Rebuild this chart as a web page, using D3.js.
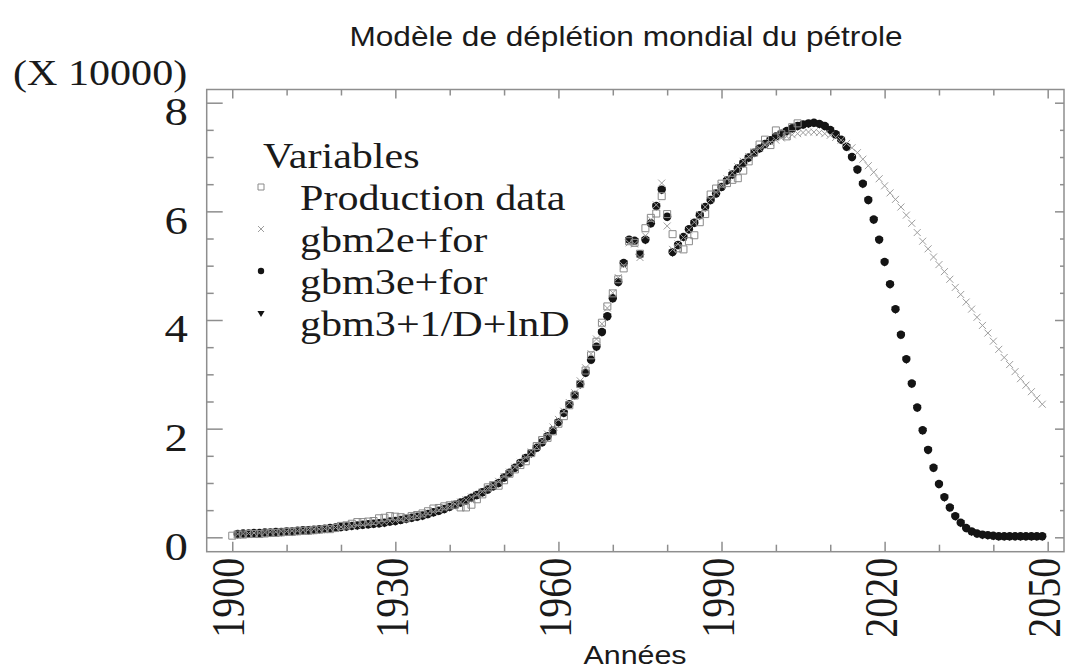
<!DOCTYPE html>
<html><head><meta charset="utf-8">
<script src="https://cdn.jsdelivr.net/npm/d3@7"></script>
<style>body{margin:0;background:#fff}svg{display:block}</style>
</head><body>
<svg id="chart" width="1065" height="671"></svg>
<script>
// ---------- data ----------
const titleText = "Modèle de déplétion mondial du pétrole";
const xLabel = "Années";
const yUnit = "(X 10000)";
const legendTitle = "Variables";
const seriesNames = ["Production data", "gbm2e+for", "gbm3e+for", "gbm3+1/D+lnD"];
const xMajorTicks = [1900, 1930, 1960, 1990, 2020, 2050];
const xMinorTicks = [1910,1920,1940,1950,1970,1980,2000,2010,2030,2040];
const yMajorTicks = [0, 2, 4, 6, 8];
const yMinorTicks = [0.5,1,1.5,2.5,3,3.5,4.5,5,5.5,6.5,7,7.5];

const prodStart = 1900;
const productionData = [
 0.03,0.05,0.05,0.06,0.06,0.06,0.07,0.08,0.08,0.09,
 0.10,0.10,0.11,0.12,0.12,0.13,0.14,0.15,0.15,0.17,
 0.21,0.22,0.25,0.28,0.28,0.29,0.30,0.35,0.36,0.39,
 0.38,0.37,0.35,0.39,0.41,0.44,0.48,0.53,0.54,0.57,
 0.59,0.60,0.55,0.55,0.60,0.70,0.79,0.92,0.96,0.95,
 1.05,1.17,1.25,1.33,1.40,1.55,1.68,1.79,1.83,1.95,
 2.09,2.23,2.43,2.61,2.82,3.07,3.35,3.60,3.95,4.25,
 4.49,4.75,4.95,5.45,5.42,5.22,5.69,5.88,5.96,6.28,
 5.95,5.58,5.32,5.30,5.45,5.56,5.80,5.95,6.31,6.42,
 6.51,6.52,6.58,6.61,6.75,6.92,7.08,7.23,7.32,7.22,
 7.49,7.42,7.38,7.55,7.62
];

const modelStart = 1901;
const gbm2eFor = [
 0.06,0.07,0.07,0.08,0.08,0.09,0.10,0.10,0.11,0.11,
 0.12,0.12,0.13,0.14,0.15,0.15,0.16,0.17,0.18,0.19,
 0.20,0.21,0.22,0.23,0.25,0.26,0.27,0.28,0.30,0.31,
 0.33,0.35,0.37,0.39,0.41,0.44,0.47,0.50,0.53,0.57,
 0.61,0.65,0.69,0.74,0.79,0.84,0.90,0.96,1.03,1.12,
 1.20,1.29,1.38,1.47,1.57,1.67,1.78,1.90,2.03,2.17,
 2.32,2.48,2.66,2.88,3.12,3.38,3.65,3.93,4.22,4.50,
 4.78,5.00,5.42,5.40,5.15,5.55,5.85,6.12,6.52,5.73,
 5.30,5.40,5.52,5.66,5.80,5.94,6.08,6.22,6.35,6.48,
 6.60,6.71,6.82,6.92,7.01,7.09,7.16,7.22,7.27,7.31,
 7.35,7.38,7.41,7.43,7.45,7.46,7.46,7.45,7.43,7.40,
 7.36,7.31,7.25,7.17,7.08,6.96,6.84,6.72,6.60,6.47,
 6.34,6.22,6.08,5.93,5.78,5.61,5.45,5.31,5.16,5.02,
 4.89,4.75,4.60,4.47,4.33,4.20,4.05,3.90,3.76,3.61,
 3.46,3.31,3.18,3.05,2.92,2.80,2.68,2.56,2.45
];
const gbm3eFor = [
 0.06,0.07,0.07,0.08,0.08,0.09,0.09,0.10,0.10,0.11,
 0.11,0.12,0.13,0.13,0.14,0.15,0.16,0.17,0.18,0.19,
 0.20,0.21,0.22,0.23,0.24,0.25,0.26,0.27,0.29,0.30,
 0.32,0.34,0.36,0.38,0.40,0.43,0.46,0.49,0.52,0.56,
 0.60,0.64,0.68,0.73,0.78,0.83,0.88,0.94,1.00,1.10,
 1.19,1.28,1.37,1.46,1.55,1.65,1.75,1.86,1.97,2.12,
 2.29,2.45,2.62,2.82,3.03,3.27,3.51,3.78,4.07,4.40,
 4.70,5.05,5.48,5.46,5.21,5.48,5.78,6.10,6.40,5.90,
 5.25,5.38,5.53,5.67,5.79,5.93,6.08,6.21,6.33,6.45,
 6.57,6.68,6.79,6.89,6.99,7.08,7.16,7.24,7.31,7.38,
 7.43,7.48,7.53,7.57,7.60,7.62,7.63,7.61,7.57,7.50,
 7.42,7.32,7.19,7.00,6.77,6.51,6.21,5.85,5.48,5.07,
 4.66,4.20,3.73,3.28,2.83,2.39,1.97,1.61,1.28,0.98,
 0.74,0.55,0.39,0.27,0.17,0.11,0.07,0.05,0.04,0.03,
 0.02,0.02,0.02,0.02,0.02,0.02,0.02,0.02,0.02
];
// hidden beneath the gbm3e+for dots in the original
const gbm3InvDlnD = gbm3eFor.slice();

// ---------- layout ----------
const SX = 1.17;            // horizontal stretch of the original's lettering
const serif = "'Liberation Serif','Times New Roman',serif";
const sans = "'Liberation Sans',Arial,sans-serif";
const frame = {left: 206.7, right: 1064, top: 89.5, bottom: 551.7};
const axisColor = "#8e8e8e";

const svg = d3.select("#chart");
const x = d3.scaleLinear().domain([1895.3, 2053.0]).range([frame.left, frame.right]);
const y = d3.scaleLinear().domain([-0.265, 8.243]).range([frame.bottom, frame.top]);

function stext(px, py, str, size, family, anchor) {
  return svg.append("g").attr("transform", `translate(${px},${py}) scale(${SX},1)`)
    .append("text").attr("font-family", family).attr("font-size", size)
    .attr("text-anchor", anchor || "start").attr("fill", "#1a1a1a").text(str);
}

// title & labels
stext(626, 46, titleText, 27, sans, "middle");
stext(635, 664, xLabel, 26, sans, "middle");
stext(13, 85, yUnit, 36, serif, "start");

// frame
svg.append("rect").attr("x", frame.left).attr("y", frame.top)
  .attr("width", frame.right - frame.left).attr("height", frame.bottom - frame.top)
  .attr("fill", "none").attr("stroke", axisColor).attr("stroke-width", 1.5);

function styleAxis(g) {
  g.select(".domain").remove();
  g.selectAll("line").attr("stroke", axisColor).attr("stroke-width", 1.5);
}

// bottom axis
svg.append("g").attr("transform", `translate(0,${frame.bottom})`)
  .call(d3.axisBottom(x).tickValues(xMinorTicks).tickSizeInner(-7).tickSizeOuter(0).tickFormat(""))
  .call(styleAxis);
const xb = svg.append("g").attr("transform", `translate(0,${frame.bottom})`)
  .call(d3.axisBottom(x).tickValues(xMajorTicks).tickSizeInner(-10).tickSizeOuter(0).tickFormat(d3.format("d")))
  .call(styleAxis);
xb.selectAll("text")
  .attr("x", 0).attr("y", 0).attr("dy", "0.25em")
  .attr("text-anchor", "end")
  .attr("transform", `translate(0,6) scale(${SX},1) rotate(-90)`)
  .attr("font-family", serif).attr("font-size", 40).attr("fill", "#1a1a1a");

// top axis
svg.append("g").attr("transform", `translate(0,${frame.top})`)
  .call(d3.axisTop(x).tickValues(xMinorTicks).tickSizeInner(-6).tickSizeOuter(0).tickFormat(""))
  .call(styleAxis);
svg.append("g").attr("transform", `translate(0,${frame.top})`)
  .call(d3.axisTop(x).tickValues(xMajorTicks).tickSizeInner(-9).tickSizeOuter(0).tickFormat(""))
  .call(styleAxis);

// left axis
svg.append("g").attr("transform", `translate(${frame.left},0)`)
  .call(d3.axisLeft(y).tickValues(yMinorTicks).tickSizeInner(-7).tickSizeOuter(0).tickFormat(""))
  .call(styleAxis);
const yl = svg.append("g").attr("transform", `translate(${frame.left},0)`)
  .call(d3.axisLeft(y).tickValues(yMajorTicks).tickSizeInner(-16).tickSizeOuter(0).tickFormat(d3.format("d")))
  .call(styleAxis);
yl.selectAll("text")
  .attr("x", -16).attr("dy", "0.42em")
  .attr("transform", `translate(0,5) scale(${SX},1)`)
  .attr("font-family", serif).attr("font-size", 40).attr("fill", "#1a1a1a");

// right axis
svg.append("g").attr("transform", `translate(${frame.right},0)`)
  .call(d3.axisRight(y).tickValues(yMinorTicks).tickSizeInner(-4).tickSizeOuter(0).tickFormat(""))
  .call(styleAxis);
svg.append("g").attr("transform", `translate(${frame.right},0)`)
  .call(d3.axisRight(y).tickValues(yMajorTicks).tickSizeInner(-9).tickSizeOuter(0).tickFormat(""))
  .call(styleAxis);

// ---------- marks ----------
const prodPts = productionData.map((v, i) => ({yr: prodStart + i, v}));
const g2Pts = gbm2eFor.map((v, i) => ({yr: modelStart + i, v}));
const g3Pts = gbm3eFor.map((v, i) => ({yr: modelStart + i, v}));
const g4Pts = gbm3InvDlnD.map((v, i) => ({yr: modelStart + i, v}));

const triPath = d3.symbol().type(d3.symbolTriangle).size(30)();
const crossPath = "M-3.5,-3.5L3.5,3.5M-3.5,3.5L3.5,-3.5";
const squarePath = "M-3.5,-3.5H3.5V3.5H-3.5Z";

const plot = svg.append("g");
plot.selectAll(".tri").data(g4Pts).join("path").attr("class", "tri")
  .attr("transform", d => `translate(${x(d.yr)},${y(d.v)}) rotate(180)`)
  .attr("d", triPath).attr("fill", "#111");
plot.selectAll(".dot").data(g3Pts).join("circle").attr("class", "dot")
  .attr("cx", d => x(d.yr)).attr("cy", d => y(d.v)).attr("r", 4.2).attr("fill", "#141414");
plot.selectAll(".cross").data(g2Pts).join("path").attr("class", "cross")
  .attr("transform", d => `translate(${x(d.yr)},${y(d.v)})`)
  .attr("d", crossPath).attr("fill", "none").attr("stroke", "#9e9e9e").attr("stroke-width", 1);
plot.selectAll(".sq").data(prodPts).join("path").attr("class", "sq")
  .attr("transform", d => `translate(${x(d.yr)},${y(d.v)})`)
  .attr("d", squarePath).attr("fill", "none").attr("stroke", "#8a8a8a").attr("stroke-width", 1);

// ---------- legend ----------
stext(263, 168, legendTitle, 36, serif, "start");
const legRows = [0, 1, 2, 3];
const legBase = 210, legStep = 42, legMarkX = 261, legTextX = 300;
legRows.forEach(i => {
  const by = legBase + i * legStep;
  stext(legTextX, by, seriesNames[i], 36, serif, "start");
  const my = by - 23;
  const g = svg.append("g").attr("transform", `translate(${legMarkX},${my})`);
  if (i === 0) g.append("path").attr("d", "M-3,-3H3V3H-3Z").attr("fill", "none").attr("stroke", "#8a8a8a");
  if (i === 1) g.append("path").attr("d", "M-3,-3L3,3M-3,3L3,-3").attr("stroke", "#9e9e9e");
  if (i === 2) g.append("circle").attr("r", 3.2).attr("fill", "#141414");
  if (i === 3) g.append("path").attr("d", d3.symbol().type(d3.symbolTriangle).size(22)()).attr("transform", "rotate(180)").attr("fill", "#141414");
});
</script>
</body></html>
